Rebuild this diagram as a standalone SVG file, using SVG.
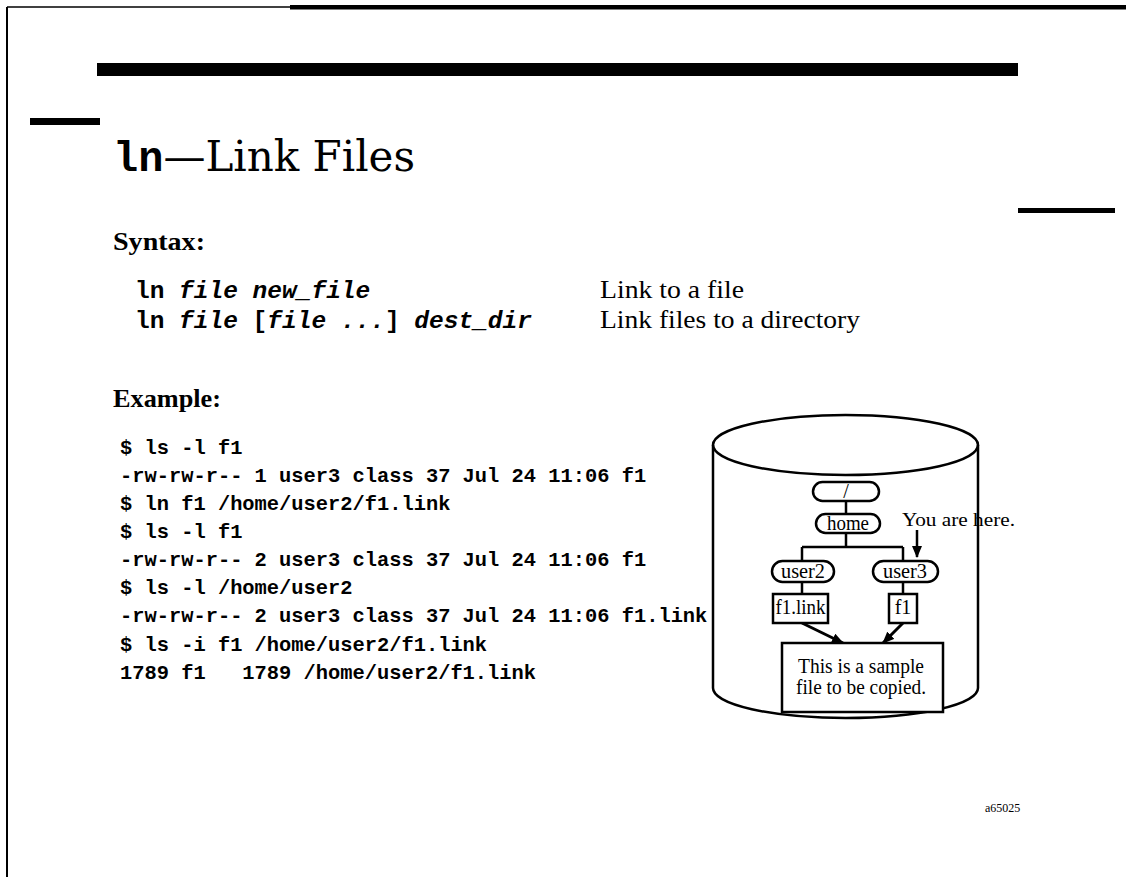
<svg xmlns="http://www.w3.org/2000/svg" width="1126" height="877" viewBox="0 0 1126 877">
<defs>
<style>
.mono{font-family:"Liberation Mono","Courier New",monospace;font-weight:bold;fill:#000;white-space:pre}
.serif{font-family:"Liberation Serif","Times New Roman",serif;fill:#000}
.title{font-family:"DejaVu Serif",serif;fill:#000}
.ln{stroke:#000;stroke-width:2.5;fill:none}
.node{stroke:#000;stroke-width:2.5;fill:#fff}
.t{font-family:"Liberation Serif","Times New Roman",serif;font-size:20px;fill:#000;text-anchor:middle}
</style>
<marker id="ah" viewBox="0 0 12 10" refX="11" refY="5" markerWidth="12" markerHeight="10" orient="auto" markerUnits="userSpaceOnUse">
<path d="M0,0 L12,5 L0,10 z" fill="#000"/>
</marker>
</defs>
<rect width="1126" height="877" fill="#fff"/>
<g id="frame">
<line x1="7" y1="7" x2="7" y2="877" stroke="#000" stroke-width="2"/>
<line x1="7" y1="7" x2="290" y2="7" stroke="#000" stroke-width="1.5"/>
<rect x="290" y="5" width="836" height="4.5" fill="#000"/>
<rect x="97" y="63" width="921" height="13" fill="#000"/>
<rect x="30" y="118" width="70" height="7" fill="#000"/>
<rect x="1018" y="208" width="97" height="5" fill="#000"/>
</g>
<g id="title">
<text x="113" y="171"><tspan class="mono" font-size="42">ln</tspan><tspan class="title" font-size="42">—Link Files</tspan></text>
</g>
<g id="syntax">
<text class="serif" x="113" y="250" font-size="26" font-weight="bold" textLength="92" lengthAdjust="spacingAndGlyphs">Syntax:</text>
<text class="mono" x="135" y="298" font-size="24.5">ln <tspan font-style="italic">file new_file</tspan></text>
<text class="mono" x="135" y="328" font-size="24.5">ln <tspan font-style="italic">file</tspan> [<tspan font-style="italic">file ...</tspan>] <tspan font-style="italic">dest_dir</tspan></text>
<text class="serif" x="600" y="298" font-size="25" textLength="144" lengthAdjust="spacingAndGlyphs">Link to a file</text>
<text class="serif" x="600" y="328" font-size="25" textLength="260" lengthAdjust="spacingAndGlyphs">Link files to a directory</text>
</g>
<g id="example">
<text class="serif" x="113" y="407" font-size="26" font-weight="bold" textLength="108" lengthAdjust="spacingAndGlyphs">Example:</text>
<text class="mono" font-size="20.4" x="120" y="454">$ ls -l f1</text>
<text class="mono" font-size="20.4" x="120" y="482">-rw-rw-r-- 1 user3 class 37 Jul 24 11:06 f1</text>
<text class="mono" font-size="20.4" x="120" y="510">$ ln f1 /home/user2/f1.link</text>
<text class="mono" font-size="20.4" x="120" y="538">$ ls -l f1</text>
<text class="mono" font-size="20.4" x="120" y="566">-rw-rw-r-- 2 user3 class 37 Jul 24 11:06 f1</text>
<text class="mono" font-size="20.4" x="120" y="594">$ ls -l /home/user2</text>
<text class="mono" font-size="20.4" x="120" y="622">-rw-rw-r-- 2 user3 class 37 Jul 24 11:06 f1.link</text>
<text class="mono" font-size="20.4" x="120" y="651">$ ls -i f1 /home/user2/f1.link</text>
<text class="mono" font-size="20.4" x="120" y="679">1789 f1   1789 /home/user2/f1.link</text>
</g>
<g id="disk">
<path class="ln" d="M713,445 L713,688 A132.5,30 0 0 0 978,688 L978,445"/>
<ellipse class="ln" cx="845.5" cy="445" rx="132.5" ry="30"/>
</g>
<g id="connectors" class="ln">
<line x1="846" y1="501" x2="846" y2="514"/>
<line x1="846" y1="533" x2="846" y2="547"/>
<line x1="802" y1="547" x2="903" y2="547"/>
<line x1="802" y1="547" x2="802" y2="561"/>
<line x1="903" y1="547" x2="903" y2="561"/>
<line x1="802" y1="582" x2="802" y2="594"/>
<line x1="903" y1="582" x2="903" y2="594"/>
<line x1="802" y1="623" x2="843" y2="643" stroke-width="3" marker-end="url(#ah)"/>
<line x1="903" y1="623" x2="883" y2="643" stroke-width="3" marker-end="url(#ah)"/>
<line x1="917" y1="530" x2="917" y2="557" marker-end="url(#ah)"/>
</g>
<g id="root"><rect class="node" x="813" y="482" width="66" height="19" rx="9.5"/><text class="t" x="846" y="498">/</text></g>
<g id="home"><rect class="node" x="816" y="514" width="64" height="19" rx="9.5"/><text class="t" x="848" y="530" textLength="42" lengthAdjust="spacingAndGlyphs">home</text></g>
<g id="user2"><rect class="node" x="772" y="561" width="62" height="21" rx="10.5"/><text class="t" x="803" y="578" textLength="44" lengthAdjust="spacingAndGlyphs">user2</text></g>
<g id="user3"><rect class="node" x="873" y="561" width="65" height="21" rx="10.5"/><text class="t" x="905" y="578" textLength="44" lengthAdjust="spacingAndGlyphs">user3</text></g>
<g id="f1link"><rect class="node" x="773" y="594" width="55" height="29"/><text class="t" x="800.5" y="614" textLength="50" lengthAdjust="spacingAndGlyphs">f1.link</text></g>
<g id="f1"><rect class="node" x="889" y="594" width="28" height="29"/><text class="t" x="903" y="614">f1</text></g>
<g id="file"><rect class="node" x="782" y="643" width="161" height="69"/>
<text class="t" x="861" y="673" textLength="126" lengthAdjust="spacingAndGlyphs">This is a sample</text>
<text class="t" x="861" y="694" textLength="130" lengthAdjust="spacingAndGlyphs">file to be copied.</text></g>
<g id="here"><text class="serif" x="902" y="526" font-size="19" textLength="113" lengthAdjust="spacingAndGlyphs">You are here.</text></g>
<text class="serif" x="985" y="812" font-size="12">a65025</text>
</svg>
